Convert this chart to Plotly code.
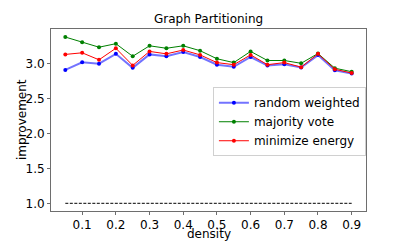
import plotly.graph_objects as go

density = [0.05, 0.10, 0.15, 0.20, 0.25, 0.30, 0.35, 0.40, 0.45, 0.50,
           0.55, 0.60, 0.65, 0.70, 0.75, 0.80, 0.85, 0.90]
random_weighted = [2.906, 3.014, 2.995, 3.135, 2.935, 3.127, 3.10, 3.16, 3.09, 2.98,
                   2.95, 3.09, 2.97, 2.985, 2.94, 3.117, 2.90, 2.855]
majority_vote = [3.375, 3.30, 3.23, 3.28, 3.10, 3.25, 3.215, 3.25, 3.18, 3.065,
                 3.01, 3.17, 3.04, 3.04, 3.00, 3.14, 2.93, 2.88]
minimize_energy = [3.127, 3.15, 3.05, 3.215, 2.97, 3.17, 3.135, 3.19, 3.12, 3.01,
                   2.98, 3.12, 2.98, 3.01, 2.945, 3.135, 2.915, 2.86]
baseline = [1.0, 1.0]
baseline_x = [0.05, 0.90]
x_ticks = [0.1, 0.2, 0.3, 0.4, 0.5, 0.6, 0.7, 0.8, 0.9]
y_ticks = [1.0, 1.5, 2.0, 2.5, 3.0]

FONT = "DejaVu Sans"
AX = "#6e6e6e"

fig = go.Figure()
fig.add_trace(go.Scatter(x=baseline_x, y=baseline, mode="lines", showlegend=False,
                         line=dict(color="black", width=1, dash="3px,1.5px")))
fig.add_trace(go.Scatter(x=density, y=random_weighted, mode="lines+markers", name="random weighted",
                         line=dict(color="rgba(0,0,255,0.55)", width=2),
                         marker=dict(color="blue", size=4)))
fig.add_trace(go.Scatter(x=density, y=majority_vote, mode="lines+markers", name="majority vote",
                         line=dict(color="#008000", width=1),
                         marker=dict(color="#008000", size=4)))
fig.add_trace(go.Scatter(x=density, y=minimize_energy, mode="lines+markers", name="minimize energy",
                         line=dict(color="#ff0000", width=1),
                         marker=dict(color="#ff0000", size=4)))

fig.update_layout(
    width=407, height=244, autosize=False,
    margin=dict(l=51, r=41, t=29, b=30, pad=0),
    plot_bgcolor="white", paper_bgcolor="white",
    font=dict(family=FONT, size=12, color="black"),
    title=dict(text="Graph Partitioning", x=0.5125, xanchor="center", y=0.922, yanchor="middle",
               font=dict(family=FONT, size=12, color="black")),
    xaxis=dict(range=[0.0075, 0.9425], tickvals=x_ticks, ticktext=[f"{v:.1f}" for v in x_ticks],
               showgrid=False, zeroline=False, showline=True, linecolor=AX, linewidth=1, mirror=True,
               ticks="outside", ticklen=3, tickcolor=AX, tickfont=dict(size=12)),
    yaxis=dict(range=[0.89, 3.49], tickvals=y_ticks, ticktext=[f"{v:.1f}" for v in y_ticks],
               showgrid=False, zeroline=False, showline=True, linecolor=AX, linewidth=1, mirror=True,
               ticks="outside", ticklen=3, tickcolor=AX, tickfont=dict(size=12)),
    legend=dict(x=0.514, y=0.68, xanchor="left", yanchor="top",
                bgcolor="rgba(255,255,255,0.8)", bordercolor="#d0d0d0", borderwidth=1,
                font=dict(family=FONT, size=12), tracegroupgap=0, itemwidth=30),
    annotations=[
        dict(text="density", xref="paper", yref="paper", x=0.5, y=0.0, yshift=-23,
             xanchor="center", yanchor="middle", showarrow=False, font=dict(size=12)),
        dict(text="improvement", xref="paper", yref="paper", x=0, xshift=-29, y=0.5,
             xanchor="center", yanchor="middle", textangle=-90, showarrow=False, font=dict(size=12)),
    ],
)

fig.write_html("out.html", config={"displayModeBar": False},
               post_script="document.body.style.margin='0';")
